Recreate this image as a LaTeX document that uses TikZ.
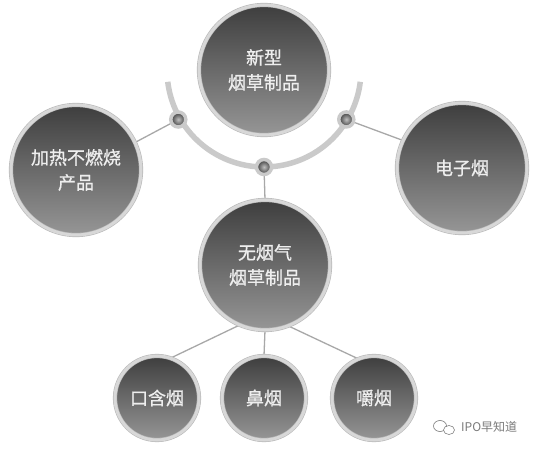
\documentclass[tikz,border=0pt]{standalone}
\usepackage{fontspec}
\newfontfamily\cjk{Noto Sans CJK SC}
\newfontfamily\cjkb[FakeBold=0.8]{Noto Sans CJK SC}
\usetikzlibrary{backgrounds}
\definecolor{ringc}{HTML}{D8D8D8}
\definecolor{ringo}{HTML}{B8B8B8}
\definecolor{ctop}{HTML}{3E3E3E}
\definecolor{cmid}{HTML}{585858}
\definecolor{cbot}{HTML}{969696}
\definecolor{connc}{HTML}{A8A8A8}
\definecolor{arcc}{HTML}{CACACA}
\definecolor{txtc}{HTML}{EEEEEE}
\definecolor{wmc}{HTML}{7A7A7A}
\tikzset{
  ball/.style={circle, inner sep=0pt, top color=ctop, middle color=cmid, bottom color=cbot,
    draw=ringo, double=ringc, double distance=3pt, line width=0.6pt,
    text=txtc, align=center, font=\cjkb\fontsize{18}{25}\selectfont},
  bigball/.style={ball, minimum size=130pt},
  smallball/.style={ball, minimum size=84pt},
  dotnode/.style={circle, inner sep=0pt, minimum size=15pt, draw=arcc, line width=3.5pt,
    inner color=gray!50, outer color=black!78},
  conn/.style={draw=connc, line width=1.3pt},
}
\begin{document}
\begin{tikzpicture}[x=1pt,y=1pt]
\useasboundingbox (0,0) rectangle (538,450);
% arc
\draw[arcc, line width=5.5pt] (264,380) ++(187:97) arc[start angle=187, end angle=353, radius=97];
% main circles
\node[bigball] (top) at (264,380) {新型\\烟草制品};
\node[bigball] (left) at (76,280) {加热不燃烧\\产品};
\node[bigball] (right) at (462,282) {电子烟};
\node[bigball] (mid) at (265,185) {无烟气\\烟草制品};
\node[smallball] (b1) at (157,52) {口含烟};
\node[smallball] (b2) at (264,52) {鼻烟};
\node[smallball] (b3) at (374,52) {嚼烟};
% dots on arc
\path (264,380) ++(210:99) node[dotnode] (dl) {};
\path (264,380) ++(329:96) node[dotnode] (dr) {};
\path (264,380) ++(270:97) node[dotnode] (db) {};
\begin{scope}[on background layer]
\fill[white] (0,0) rectangle (538,450);
\draw[conn] (dl.center) -- (left.25);
\draw[conn] (dr.center) -- (right.155);
\draw[conn] (db.center) -- (mid.90);
\draw[conn] (mid.247) -- (b1.71);
\draw[conn] (mid.270) -- (b2.90);
\draw[conn] (mid.291) -- (b3.112);
\end{scope}
% watermark
\draw[wmc, line width=0.6pt] (440,24) ellipse[x radius=6.5pt, y radius=5.5pt];
\draw[wmc, line width=0.6pt, fill=white] (449,20) ellipse[x radius=5.5pt, y radius=4.5pt];
\node[anchor=west, inner sep=0pt, text=wmc, font=\cjk\fontsize{12}{14}\selectfont] (wm) at (461,23) {IPO早知道};
\end{tikzpicture}
\end{document}
